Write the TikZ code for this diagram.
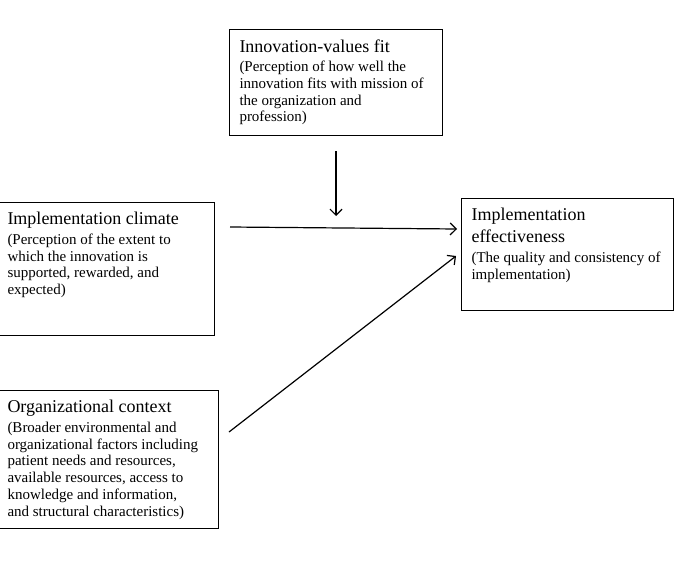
\documentclass[tikz,border=0pt]{standalone}
\usepackage{fontspec}
\setmainfont{Liberation Serif}
\usetikzlibrary{arrows.meta}
\tikzset{
    box/.style={draw, rectangle, line width=1pt, anchor=north west, align=left,
        inner xsep=10pt, inner ysep=10pt, font=\fontsize{15}{16.8}\selectfont},
    arr/.style={line width=1.2pt, -{Straight Barb[length=6pt,width=12pt]}}
}
% top-aligned text block of a fixed height
\newcommand{\boxtext}[4]{\parbox[t][#2][t]{#1}{{\fontsize{18}{22}\selectfont #3\par}\vspace{2.5pt}#4}}

\begin{document}
\begin{tikzpicture}[x=1pt, y=-1pt]
    \useasboundingbox (0,0) rectangle (676,567);
    \node[box] (fit) at (229,29) {\boxtext{193pt}{86pt}{Innovation-values fit}{(Perception of how well the\\innovation fits with mission of\\the organization and\\profession)}};
    \node[box] (clim) at (-3,202) {\boxtext{197pt}{113pt}{Implementation climate}{(Perception of the extent to\\which the innovation is\\supported, rewarded, and\\expected)}};
    \node[box] (ctx) at (-3,390) {\boxtext{201pt}{118pt}{Organizational context}{(Broader environmental and\\organizational factors including\\patient needs and resources,\\available resources, access to\\knowledge and information,\\and structural characteristics)}};
    \node[box] (eff) at (461,198) {\boxtext{192pt}{92pt}{Implementation\\effectiveness}{(The quality and consistency of\\implementation)}};

    \coordinate (meet) at (336,216);
    \draw[arr] ([yshift=-15pt]fit.south) -- (meet);
    \draw[arr] ([xshift=15pt,yshift=-25pt]clim.north east) -- ([xshift=-4pt,yshift=-31pt]eff.north west);
    \draw[arr] ([xshift=10pt,yshift=-42pt]ctx.north east) -- ([xshift=-5pt,yshift=-58pt]eff.north west);
\end{tikzpicture}
\end{document}
